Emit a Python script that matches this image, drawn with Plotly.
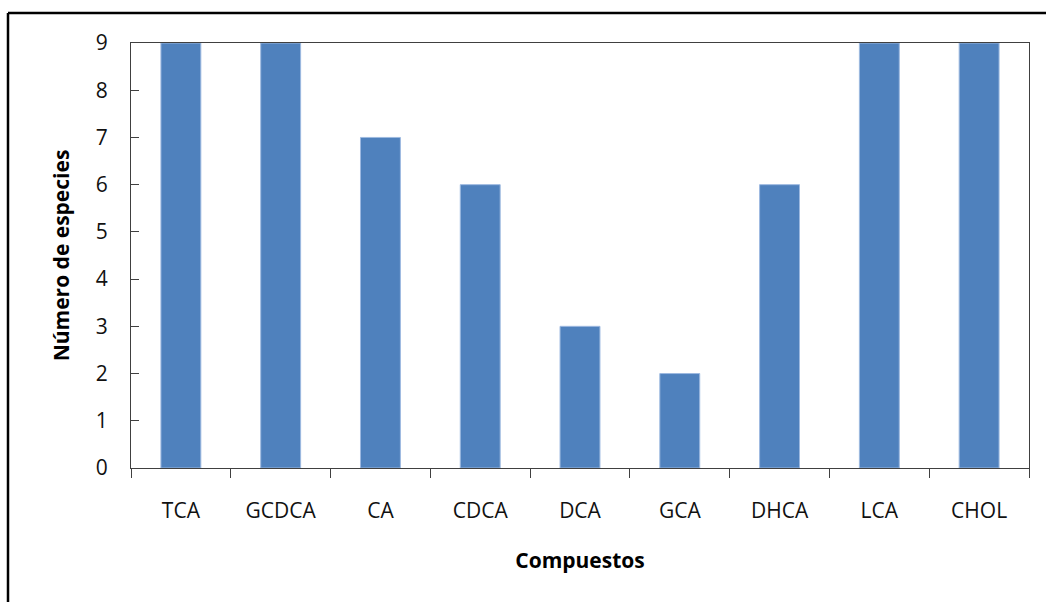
import plotly.graph_objects as go

categories = ["TCA", "GCDCA", "CA", "CDCA", "DCA", "GCA", "DHCA", "LCA", "CHOL"]
values = [9, 9, 7, 6, 3, 2, 6, 9, 9]
y_ticks = [0, 1, 2, 3, 4, 5, 6, 7, 8, 9]

FONT = "Open Sans"
W, H = 1046, 602
L, R, T, B = 131, 17, 43, 134
pw, ph = W - L - R, H - T - B

fig = go.Figure()
fig.add_trace(go.Bar(
    x=list(range(len(categories))), y=values,
    width=0.4,
    marker=dict(color="#4F81BD", line=dict(color="#9DB9E0", width=1)),
))

fig.update_layout(
    width=W, height=H,
    margin=dict(l=L, r=R, t=T, b=B, pad=0),
    paper_bgcolor="white", plot_bgcolor="white",
    showlegend=False,
    font=dict(family=FONT, color="#000000", size=18),
    xaxis=dict(
        range=[-0.5, len(categories) - 0.5],
        tickmode="array",
        tickvals=list(range(len(categories))),
        ticktext=categories,
        ticks="", showgrid=False, zeroline=False,
        showline=True, linecolor="#404040", linewidth=1, mirror=True,
        tickfont=dict(family=FONT, size=21, color="#111111"),
        ticklabelstandoff=24,
        title=dict(text="<b>Compuestos</b>", font=dict(family=FONT, size=21, color="#000000"), standoff=30),
    ),
    xaxis2=dict(
        overlaying="x", matches="x", range=[-0.5, len(categories) - 0.5],
        tickmode="array",
        tickvals=[i - 0.5 for i in range(len(categories) + 1)],
        ticks="outside", ticklen=9, tickcolor="#404040",
        showticklabels=False, showgrid=False, zeroline=False, showline=False,
    ),
    yaxis=dict(
        range=[0, 9], tickmode="array", tickvals=y_ticks,
        ticks="inside", ticklen=8, tickcolor="#404040",
        showgrid=False, zeroline=False,
        showline=True, linecolor="#404040", linewidth=1, mirror=True,
        tickfont=dict(family=FONT, size=21, color="#111111"),
        ticklabelstandoff=18,
        title=dict(text="<b>Número de especies</b>", font=dict(family=FONT, size=21, color="#000000"), standoff=20),
    ),
)
fig.add_trace(go.Scatter(x=[0], y=[0], xaxis="x2", mode="markers",
                         marker=dict(opacity=0), hoverinfo="skip"))

x0 = (8 - L) / pw
y_top = (H - B - 13) / ph
fig.add_shape(type="line", xref="paper", yref="paper", x0=x0, x1=x0,
              y0=y_top, y1=-(B + 10) / ph, line=dict(color="black", width=2.5))
fig.add_shape(type="line", xref="paper", yref="paper", x0=x0, x1=(W - L + 10) / pw,
              y0=y_top, y1=y_top, line=dict(color="black", width=2.5))

fig.write_html("out.html")
